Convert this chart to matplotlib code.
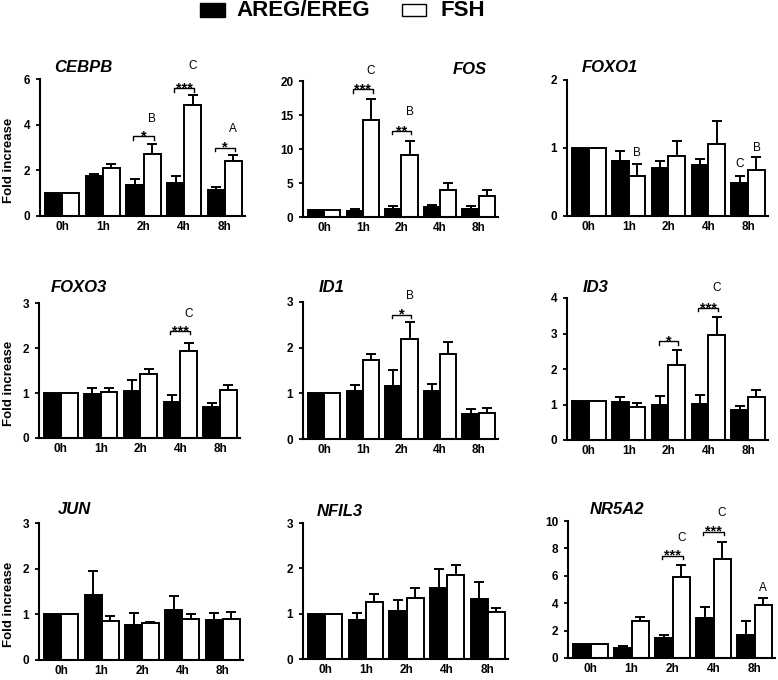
import numpy as np
import matplotlib
matplotlib.use("Agg")
from matplotlib import pyplot as plt
from matplotlib.patches import Rectangle

plt.rcParams['font.family'] = ['Liberation Sans', 'DejaVu Sans']
plt.rcParams['font.weight'] = 'bold'

times = ['0h', '1h', '2h', '4h', '8h']

# values (mean and upper SEM)
cebpb_areg = [1.0, 1.76, 1.35, 1.45, 1.13]
cebpb_areg_err = [0, 0.06, 0.25, 0.31, 0.13]
cebpb_fsh = [1.0, 2.1, 2.7, 4.84, 2.4]
cebpb_fsh_err = [0, 0.16, 0.44, 0.48, 0.27]

fos_areg = [1.0, 0.83, 1.22, 1.42, 1.12]
fos_areg_err = [0, 0.34, 0.34, 0.38, 0.44]
fos_fsh = [1.0, 14.3, 9.1, 3.9, 3.03]
fos_fsh_err = [0, 3.1, 2.05, 1.1, 0.87]

foxo1_areg = [1.0, 0.81, 0.71, 0.745, 0.48]
foxo1_areg_err = [0, 0.14, 0.10, 0.095, 0.11]
foxo1_fsh = [1.0, 0.59, 0.88, 1.06, 0.68]
foxo1_fsh_err = [0, 0.17, 0.22, 0.34, 0.19]

foxo3_areg = [1.0, 0.98, 1.04, 0.8, 0.68]
foxo3_areg_err = [0, 0.14, 0.26, 0.15, 0.09]
foxo3_fsh = [1.0, 1.03, 1.43, 1.93, 1.06]
foxo3_fsh_err = [0, 0.09, 0.11, 0.18, 0.12]

id1_areg = [1.0, 1.05, 1.15, 1.05, 0.55]
id1_areg_err = [0, 0.13, 0.37, 0.15, 0.10]
id1_fsh = [1.0, 1.74, 2.2, 1.86, 0.58]
id1_fsh_err = [0, 0.12, 0.36, 0.27, 0.10]

id3_areg = [1.1, 1.08, 1.0, 1.02, 0.84]
id3_areg_err = [0, 0.13, 0.24, 0.24, 0.12]
id3_fsh = [1.1, 0.94, 2.11, 2.97, 1.22]
id3_fsh_err = [0, 0.10, 0.43, 0.50, 0.18]

jun_areg = [1.0, 1.43, 0.77, 1.085, 0.88]
jun_areg_err = [0, 0.51, 0.25, 0.325, 0.14]
jun_fsh = [1.0, 0.85, 0.8, 0.9, 0.89]
jun_fsh_err = [0, 0.11, 0.03, 0.10, 0.16]

nfil3_areg = [1.0, 0.87, 1.06, 1.57, 1.33]
nfil3_areg_err = [0, 0.14, 0.24, 0.41, 0.36]
nfil3_fsh = [1.0, 1.25, 1.34, 1.85, 1.03]
nfil3_fsh_err = [0, 0.19, 0.22, 0.22, 0.10]

nr5a2_areg = [1.0, 0.72, 1.47, 2.94, 1.71]
nr5a2_areg_err = [0, 0.12, 0.22, 0.75, 0.99]
nr5a2_fsh = [1.0, 2.7, 5.93, 7.25, 3.9]
nr5a2_fsh_err = [0, 0.26, 0.89, 1.23, 0.46]

# significance brackets: (time index, height, stars)
cebpb_brackets = [(2, 3.5, '*'), (3, 5.6, '***'), (4, 3.0, '*')]
fos_brackets = [(1, 18.8, '***'), (2, 12.66, '**')]
foxo3_brackets = [(3, 2.38, '***')]
id1_brackets = [(2, 2.72, '*')]
id3_brackets = [(2, 2.78, '*'), (3, 3.72, '***')]
nr5a2_brackets = [(2, 7.47, '***'), (3, 9.23, '***')]

# letters: (time index, group, height, letter)
cebpb_letters = [(2, 'f', 4.24, 'B'), (3, 'f', 6.55, 'C'), (4, 'f', 3.81, 'A')]
fos_letters = [(1, 'f', 21.5, 'C'), (2, 'f', 15.5, 'B')]
foxo1_letters = [(1, 'f', 0.93, 'B'), (4, 'a', 0.76, 'C'), (4, 'f', 1.0, 'B')]
foxo3_letters = [(3, 'f', 2.76, 'C')]
id1_letters = [(2, 'f', 3.14, 'B')]
id3_letters = [(3, 'f', 4.29, 'C')]
nr5a2_letters = [(2, 'f', 8.75, 'C'), (3, 'f', 10.55, 'C'), (4, 'f', 5.13, 'A')]

W, H = 778, 680
fig = plt.figure(figsize=(W / 100, H / 100), dpi=100)

def rect(l, t, r, b):
    return [l / W, 1 - b / H, (r - l) / W, (b - t) / H]

bw = 0.42

def panel(box, title, tpos, areg, areg_err, fsh, fsh_err, ymax, ystep,
          brackets=(), letters=(), ylabel=False):
    ax = fig.add_axes(rect(*box))
    x = np.arange(len(times))
    ax.bar(x - bw / 2, areg, bw, color='black', edgecolor='black', linewidth=1.4, zorder=2)
    ax.bar(x + bw / 2, fsh, bw, color='white', edgecolor='black', linewidth=1.4, zorder=2)
    for xs, m, e in [(x - bw / 2, areg, areg_err), (x + bw / 2, fsh, fsh_err)]:
        e = np.array(e)
        k = e > 0
        ax.errorbar(xs[k], np.array(m)[k], yerr=[np.zeros(k.sum()), e[k]], fmt='none',
                    ecolor='black', elinewidth=1.4, capsize=3.5, capthick=1.4, zorder=1)
    ax.set_xlim(-0.55, 4.5)
    ax.set_ylim(0, ymax)
    ax.set_yticks(np.arange(0, ymax + 0.01, ystep))
    ax.set_xticks(x)
    ax.set_xticklabels(times)
    for s in ['top', 'right']:
        ax.spines[s].set_visible(False)
    for s in ['left', 'bottom']:
        ax.spines[s].set_linewidth(1.5)
    ax.tick_params(axis='y', direction='out', length=3, width=1.3, labelsize=8.5, pad=4)
    ax.tick_params(axis='x', length=0, labelsize=8.5, pad=3.5)
    drop = ymax * 0.025
    for i, yb, st in brackets:
        x0, x1 = i - 0.25, i + 0.25
        ax.plot([x0, x0, x1, x1], [yb - drop, yb, yb, yb - drop], color='black',
                lw=1.0, clip_on=False, zorder=3)
        ax.annotate(st, xy=((x0 + x1) / 2, yb), xytext=(0, -3), textcoords='offset points',
                    ha='center', va='baseline', fontsize=10.5, annotation_clip=False)
    for i, g, yl, lt in letters:
        xl = i + bw / 2 if g == 'f' else i - bw / 2
        ax.text(xl, yl, lt, ha='center', va='center', fontsize=8.5, fontweight='normal',
                clip_on=False)
    fig.text(tpos[0] / W, 1 - tpos[1] / H, title, ha='center', va='center',
             fontsize=12, fontstyle='italic', fontweight='bold')
    if ylabel:
        yc = (box[1] + box[3]) / 2 + 13
        fig.text(9 / W, 1 - yc / H, 'Fold increase', rotation=90, ha='center',
                 va='center', fontsize=9.5, fontweight='bold')
    return ax

panel((40, 79, 245, 216), 'CEBPB', (83, 67), cebpb_areg, cebpb_areg_err, cebpb_fsh, cebpb_fsh_err,
      6, 2, cebpb_brackets, cebpb_letters, ylabel=True)
panel((303, 81, 498, 217), 'FOS', (470, 70), fos_areg, fos_areg_err, fos_fsh, fos_fsh_err,
      20, 5, fos_brackets, fos_letters)
panel((567, 80, 768, 216), 'FOXO1', (610, 67), foxo1_areg, foxo1_areg_err, foxo1_fsh, foxo1_fsh_err,
      2, 1, (), foxo1_letters)
panel((39, 303, 240, 438), 'FOXO3', (79, 287), foxo3_areg, foxo3_areg_err, foxo3_fsh, foxo3_fsh_err,
      3, 1, foxo3_brackets, foxo3_letters, ylabel=True)
panel((303, 302, 498, 439), 'ID1', (332, 287), id1_areg, id1_areg_err, id1_fsh, id1_fsh_err,
      3, 1, id1_brackets, id1_letters)
panel((567, 298, 768, 440), 'ID3', (596, 287), id3_areg, id3_areg_err, id3_fsh, id3_fsh_err,
      4, 1, id3_brackets, id3_letters)
panel((39, 523, 243, 660), 'JUN', (74, 509), jun_areg, jun_areg_err, jun_fsh, jun_fsh_err,
      3, 1, ylabel=True)
panel((303, 523, 508, 659), 'NFIL3', (340, 511), nfil3_areg, nfil3_areg_err, nfil3_fsh, nfil3_fsh_err,
      3, 1)
panel((568, 521, 775, 658), 'NR5A2', (617, 509), nr5a2_areg, nr5a2_areg_err, nr5a2_fsh, nr5a2_fsh_err,
      10, 2, nr5a2_brackets, nr5a2_letters)

# legend on top
fig.patches.append(Rectangle((200 / W, 1 - 17 / H), 25 / W, 14 / H, transform=fig.transFigure,
                             facecolor='black', edgecolor='black', lw=1))
fig.text(236 / W, 1 - 10 / H, 'AREG/EREG', ha='left', va='center', fontsize=16, fontweight='bold')
fig.patches.append(Rectangle((402 / W, 1 - 16 / H), 24 / W, 12 / H, transform=fig.transFigure,
                             facecolor='white', edgecolor='black', lw=1))
fig.text(441 / W, 1 - 10 / H, 'FSH', ha='left', va='center', fontsize=16, fontweight='bold')

fig.savefig('out.png', dpi=100)
